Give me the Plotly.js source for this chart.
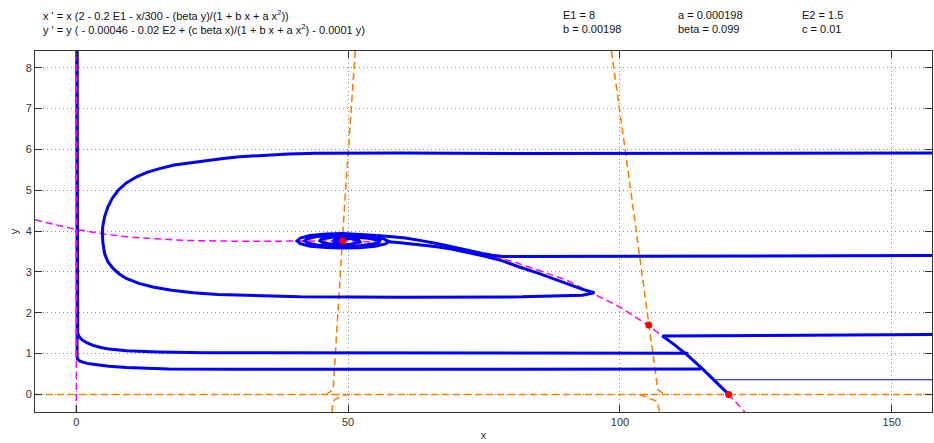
<!DOCTYPE html>
<html>
<head>
<meta charset="utf-8">
<script src="https://cdn.plot.ly/plotly-3.0.1.min.js"></script>
<style>html,body{margin:0;padding:0;background:#fff;}#plot{width:934px;height:443px;}</style>
</head>
<body>
<div id="plot"></div>
<script>
// ---- nullclines ----
const magX = [-7.6, -5, 0, 5, 10, 20, 30, 40, 50, 60, 70, 80, 90, 100, 105, 110, 115, 120, 123];
const magY = [4.28, 4.19, 4.04, 3.93, 3.85, 3.77, 3.75, 3.76, 3.76, 3.70, 3.55, 3.27, 2.81, 2.14, 1.71, 1.22, 0.65, 0.0, -0.43];
const magAxisX = [0, 0];
const magAxisY = [-0.43, 8.41];

const orLUx = [51.31, 51.08, 50.55, 50.03, 49.53, 49.05, 48.57, 48.12, 47.68, 47.37, 47.25, 46.0];
const orLUy = [8.41, 8, 7, 6, 5, 4, 3, 2, 1, 0.3, 0.12, 0];
const orLLx = [47.06, 47.15, 47.6, 49.6];
const orLLy = [-0.43, -0.2, -0.12, 0];
const orRUx = [98.43, 98.88, 99.91, 100.95, 101.97, 102.97, 103.98, 104.96, 105.94, 106.7, 106.95, 108.2];
const orRUy = [8.41, 8, 7, 6, 5, 4, 3, 2, 1, 0.3, 0.12, 0];
const orRLx = [103.6, 106.8, 107.3];
const orRLy = [0, -0.17, -0.43];
const orAxisX = [-7.6, 157.4];
const orAxisY = [0, 0];

// ---- equilibria ----
const eqX = [49.0, 105.3, 120.0];
const eqY = [3.76, 1.70, 0.0];

// ---- trajectories ----
const t1x = [0.12, 0.12, 0.13, 0.25, 0.5, 1.0, 2.0, 3.1, 4.5, 6.0, 9.2, 12, 15, 23.6, 40, 60, 80, 100, 112.6];
const t1y = [8.41, 4.0, 1.57, 1.50, 1.42, 1.34, 1.26, 1.20, 1.15, 1.11, 1.07, 1.05, 1.04, 1.02, 1.02, 1.02, 1.02, 1.02, 1.01];
const t2x = [0.12, 0.12, 0.14, 0.3, 0.6, 1.2, 2.0, 3.1, 4.5, 6.0, 9.2, 13, 17, 30, 60, 90, 114.9];
const t2y = [8.41, 1.2, 0.92, 0.86, 0.82, 0.79, 0.76, 0.74, 0.71, 0.69, 0.66, 0.64, 0.625, 0.615, 0.615, 0.615, 0.62];
const t3x = [157.4, 140, 120, 110, 108.3, 107.8, 110, 112.5, 115, 117.5, 120];
const t3y = [1.47, 1.46, 1.44, 1.43, 1.43, 1.43, 1.22, 0.95, 0.65, 0.33, 0.0];
const t4x = [157.4, 135, 117.6];
const t4y = [0.36, 0.36, 0.36];
const t5x = [157.4, 130, 100, 80, 78.4, 76.5, 74.7, 72, 69.8, 66.5, 63.7, 60.5, 57.6, 55.2];
const t5y = [3.40, 3.39, 3.37, 3.37, 3.38, 3.41, 3.45, 3.53, 3.60, 3.69, 3.76, 3.83, 3.87, 3.89];
const t6x = [157.4, 120, 100, 80, 60, 50, 44, 39, 34, 30, 27, 24, 21.5, 18, 15.3, 13, 11.1, 9.2, 7.7, 6.6, 5.8, 5.2, 4.85, 4.8, 4.9, 5.2, 5.8, 6.8, 7.9, 9.2, 11.5, 14.1, 17.5, 21.5, 26, 30.7, 35, 41.1, 60, 82, 93.1, 95.3, 93.0, 91.2, 88, 85.2, 81.5, 78.4, 75, 72, 69, 66, 63, 60, 57.6];
const t6y = [5.91, 5.90, 5.89, 5.90, 5.91, 5.91, 5.905, 5.89, 5.86, 5.82, 5.78, 5.73, 5.69, 5.62, 5.53, 5.44, 5.33, 5.18, 5.0, 4.80, 4.59, 4.35, 4.10, 3.90, 3.70, 3.45, 3.25, 3.08, 2.95, 2.84, 2.72, 2.63, 2.55, 2.49, 2.45, 2.43, 2.41, 2.39, 2.38, 2.39, 2.43, 2.49, 2.58, 2.67, 2.82, 2.96, 3.12, 3.27, 3.39, 3.48, 3.56, 3.62, 3.67, 3.71, 3.74];
const spX = [55.2, 52, 49.1, 46, 43.0, 41.2, 40.6, 41.2, 43.0, 46, 49.1, 52, 55.0, 57.0, 57.4, 56.4, 54.2, 51.5, 49.1, 46.5, 44.0, 42.5, 42.0, 42.6, 44.2, 46.5, 49.1, 51.5, 53.8, 55.5, 55.8, 54.0, 52.3, 50.7, 49.1, 47.5, 46.0, 45.0, 44.8, 45.3, 46.5, 48, 49.1, 50.5, 51.5, 52.2, 52.0, 50.6, 49.1, 47.6, 47.2, 48.2, 49.0];
const spY = [3.89, 3.925, 3.94, 3.93, 3.89, 3.83, 3.76, 3.69, 3.63, 3.60, 3.585, 3.59, 3.63, 3.69, 3.75, 3.82, 3.87, 3.90, 3.91, 3.90, 3.86, 3.81, 3.76, 3.71, 3.66, 3.63, 3.62, 3.63, 3.66, 3.70, 3.76, 3.82, 3.84, 3.86, 3.87, 3.86, 3.83, 3.80, 3.76, 3.72, 3.69, 3.675, 3.67, 3.68, 3.70, 3.73, 3.77, 3.81, 3.82, 3.79, 3.76, 3.73, 3.76];

const ORANGE = '#ff8000', MAG = '#ff00ff', BLUE = '#0000ff';
const orDash = '7px,4px', magDash = '7px,4px';
function ln(x, y, color, width, dash) {
  return {x: x, y: y, type: 'scatter', mode: 'lines', hoverinfo: 'skip', showlegend: false,
          line: {color: color, width: width, dash: dash || 'solid'}};
}
const data = [
  ln(orAxisX, orAxisY, ORANGE, 1.6, orDash),
  ln(orLUx, orLUy, ORANGE, 1.6, orDash),
  ln(orLLx, orLLy, ORANGE, 1.6, orDash),
  ln(orRUx, orRUy, ORANGE, 1.6, orDash),
  ln(orRLx, orRLy, ORANGE, 1.6, orDash),
  ln(magX, magY, MAG, 1.5, magDash),
  ln(t1x, t1y, BLUE, 3),
  ln(t2x, t2y, BLUE, 3),
  ln(t3x, t3y, BLUE, 3),
  ln(t4x, t4y, BLUE, 1.2),
  ln(t5x, t5y, BLUE, 3),
  ln(t6x, t6y, BLUE, 3),
  ln(spX, spY, BLUE, 3),
  ln(magAxisX, magAxisY, MAG, 1.5, magDash),
  {x: eqX, y: eqY, type: 'scatter', mode: 'markers', hoverinfo: 'skip', showlegend: false,
   marker: {color: '#ff0000', size: 7}}
];

const F = 'Liberation Sans, Arial, sans-serif';
const txt = (x, y, s) => ({xref: 'paper', yref: 'paper', x: x, y: y, xanchor: 'left', yanchor: 'middle',
  text: s, showarrow: false, font: {family: F, size: 11, color: '#111'}});
// paper coords: plot area left=35, width=897; top=51, height=361
const px = p => (p - 35) / 897;
const py = p => (412 - p) / 361;
const layout = {
  width: 934, height: 443,
  margin: {l: 35, r: 2, t: 51, b: 31},
  paper_bgcolor: '#fff', plot_bgcolor: '#fff',
  font: {family: F, size: 11, color: '#333'},
  xaxis: {range: [-7.6, 157.4], tickvals: [0, 50, 100, 150], ticks: 'inside', ticklen: 7, tickcolor: '#333',
          showline: true, linecolor: '#333', linewidth: 1, mirror: 'ticks', zeroline: false,
          showgrid: true, gridcolor: '#8c8c8c', griddash: '1px,3px', gridwidth: 1,
          title: {text: 'x', standoff: 4, font: {size: 11, color: '#333'}}, automargin: false},
  yaxis: {range: [-0.43, 8.41], tickvals: [0, 1, 2, 3, 4, 5, 6, 7, 8], ticks: 'inside', ticklen: 7, tickcolor: '#333',
          showline: true, linecolor: '#333', linewidth: 1, mirror: 'ticks', zeroline: false,
          showgrid: true, gridcolor: '#8c8c8c', griddash: '1px,3px', gridwidth: 1,
          title: {text: 'y', standoff: 4, font: {size: 11, color: '#333'}}, automargin: false},
  annotations: [
    txt(px(41), py(15.5), "x ' = x (2 - 0.2 E1 - x/300 - (beta y)/(1 + b x + a x<sup>2</sup>))"),
    txt(px(41), py(28.5), "y ' = y ( - 0.00046 - 0.02 E2 + (c beta x)/(1 + b x + a x<sup>2</sup>) - 0.0001 y)"),
    txt(px(561), py(15.5), "E1 = 8"),
    txt(px(561), py(28.5), "b = 0.00198"),
    txt(px(676), py(15.5), "a = 0.000198"),
    txt(px(676), py(28.5), "beta = 0.099"),
    txt(px(800), py(15.5), "E2 = 1.5"),
    txt(px(800), py(28.5), "c = 0.01")
  ]
};
Plotly.newPlot('plot', data, layout, {displayModeBar: false, staticPlot: true});
</script>
</body>
</html>
